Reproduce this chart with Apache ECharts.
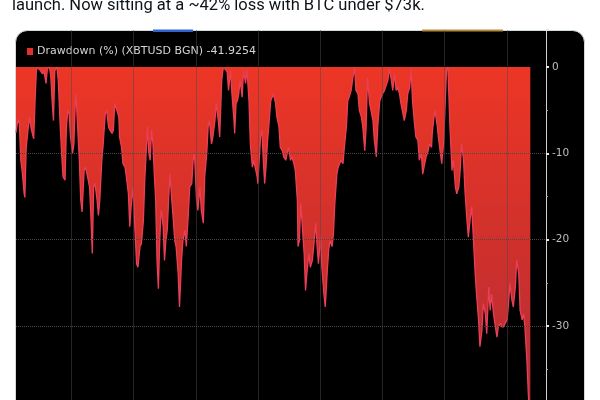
<!DOCTYPE html>
<html>
<head>
<meta charset="utf-8">
<script src="https://cdn.jsdelivr.net/npm/echarts@6/dist/echarts.min.js"></script>
<style>
html,body{margin:0;padding:0;background:#fff;overflow:hidden;width:600px;height:400px;}
#chart{width:600px;height:520px;}
</style>
</head>
<body>
<div id="chart"></div>
<script>
// ---- data ----
var tweetText = 'launch. Now sitting at a ~42% loss with BTC under $73k.';
var seriesLabel = 'Drawdown (%) (XBTUSD BGN)';
var launchDate = '2024-01-11';
var axisEndDate = '2026-02-27';
// days since launch
var days = [0,3,5,7,9,12,13,15,18,20,22,24,26,28,30,34,36,39,41,44,46,49,51,53,55,57,60,62,65,67,69,72,74,76,78,80,83,85,87,88,90,93,95,97,100,102,105,108,110,112,114,116,119,121,123,126,128,131,133,136,138,141,143,145,148,151,152,155,157,160,162,165,167,169,172,174,177,179,182,184,187,189,191,193,195,197,199,201,203,205,207,209,211,213,214,216,218,220,222,224,226,228,231,233,235,238,240,243,245,248,250,253,255,258,260,262,265,267,270,272,275,277,280,282,284,287,289,292,294,297,299,302,304,305,307,310,312,315,317,320,321,323,325,327,329,332,334,337,339,342,344,347,349,351,354,355,357,359,361,363,365,367,369,371,374,376,378,381,383,386,388,391,393,396,398,400,403,405,408,410,413,414,416,418,420,423,425,427,430,432,435,437,440,442,444,447,449,452,454,457,459,461,464,466,468,471,473,475,477,480,482,485,487,489,492,494,497,499,502,504,507,509,512,514,516,519,521,524,526,529,531,534,536,538,541,543,546,548,551,553,556,558,560,563,565,568,570,573,575,578,580,582,585,587,590,592,595,597,600,602,605,607,610,611,613,615,618,620,623,625,628,630,632,634,635,637,640,642,645,647,650,652,654,657,659,662,664,667,669,672,674,676,679,681,684,686,689,691,694,696,698,701,703,706,708,711,713,716,718,721,723,725,728,730,733,735,738,740,743,745,747,750,752,755];
// drawdown (%)
var drawdown = [-7.6,-6.0,-6.6,-10.8,-12.0,-14.7,-15.1,-9.3,-7.0,-5.8,-7.0,-7.7,-8.3,-3.9,-0.2,-0.2,-0.4,-0.8,-0.4,-1.9,-0.2,0,-1.0,-3.9,-6.2,-0.4,0,-1.5,-7.0,-10.0,-12.7,-13.1,-7.0,-5.0,-5.4,-8.1,-10.0,-8.9,-4.2,-3.1,-6.2,-10.8,-15.4,-16.8,-12.0,-11.6,-12.7,-13.9,-17.4,-21.6,-13.9,-13.5,-15.4,-17.2,-15.4,-10.8,-8.9,-5.4,-5.0,-7.0,-7.3,-7.7,-7.3,-4.2,-5.0,-5.8,-8.1,-9.3,-11.2,-11.6,-12.7,-14.7,-18.5,-16.2,-13.9,-17.8,-22.8,-23.2,-20.8,-20.5,-17.8,-13.1,-10.0,-6.9,-10.0,-10.8,-7.3,-8.9,-12.4,-15.4,-22.4,-25.7,-20.1,-16.6,-17.0,-18.5,-22.4,-20.1,-18.9,-15.4,-12.4,-14.7,-17.8,-20.1,-20.8,-23.9,-27.8,-22.4,-20.1,-18.9,-20.8,-17.0,-13.9,-13.5,-10.8,-10.0,-15.4,-16.6,-13.9,-16.6,-18.1,-12.7,-10.0,-6.9,-6.2,-8.9,-8.1,-6.2,-4.2,-6.2,-8.1,-1.5,-0.2,-0.4,-0.2,-0.6,-2.7,-0.4,-3.1,-6.2,-7.7,-4.2,-3.9,-3.1,-1.5,-3.5,-0.4,-1.9,-0.2,-3.9,-8.9,-11.6,-10.8,-11.6,-12.7,-13.5,-10.8,-8.1,-7.3,-10.8,-13.5,-11.6,-8.9,-6.9,-3.9,-3.5,-3.1,-4.2,-5.8,-6.9,-9.3,-9.7,-10.4,-10.8,-10.0,-9.3,-10.8,-10.4,-11.2,-12.0,-15.4,-20.8,-20.1,-15.8,-18.1,-21.6,-25.9,-23.9,-21.6,-23.2,-22.4,-20.8,-18.1,-20.8,-22.8,-19.7,-23.2,-26.3,-27.8,-23.5,-21.2,-20.1,-20.8,-19.3,-15.8,-12.4,-11.6,-11.6,-10.8,-11.2,-9.3,-6.9,-3.9,-3.5,-2.7,-1.5,0,-2.7,-3.1,-5.0,-5.8,-6.9,-9.7,-6.9,-1.2,-4.2,-5.0,-6.2,-8.5,-10.4,-6.9,-3.9,-3.5,-3.1,-2.7,-2.7,-1.5,-0.2,-1.5,-2.7,-0.8,-2.7,-2.3,-3.1,-4.2,-5.4,-6.2,-5.0,-3.1,-2.3,-0.2,-3.9,-6.6,-8.1,-8.5,-10.8,-10.0,-12.4,-11.2,-10.4,-9.7,-8.9,-9.3,-7.7,-6.2,-5.0,-6.6,-8.1,-10.0,-11.2,-8.5,-4.2,-0.4,0,-2.3,-6.9,-12.0,-10.8,-13.9,-14.7,-13.9,-12.0,-8.9,-10.8,-14.3,-17.8,-19.7,-17.4,-16.2,-20.8,-23.9,-26.3,-29.3,-32.4,-30.5,-27.4,-28.6,-30.9,-25.5,-28.2,-26.3,-28.6,-29.7,-31.3,-30.1,-29.7,-30.1,-30.1,-29.7,-29.3,-27.4,-25.1,-27.0,-27.8,-25.5,-22.4,-23.9,-28.2,-29.3,-28.6,-30.1,-34.0,-37.8,-41.9254];
var quarterDates = ['2024-04-01','2024-07-01','2024-10-01','2025-01-01','2025-04-01','2025-07-01','2025-10-01','2026-01-01'];
var yGridValues = [-10,-20,-30,-40];
var yMin = -50, yMax = 4.3, yInterval = 10;

// ---- build ----
function parseDate(s){var p=s.split('-');return new Date(+p[0],+p[1]-1,+p[2]).getTime();}
var DAY = 86400000;
var t0 = parseDate(launchDate);
var points = days.map(function(d,i){return [t0 + d*DAY, drawdown[i]];});
var lastVal = drawdown[drawdown.length-1];
var mainName = seriesLabel + ' ' + lastVal.toFixed(4);

var gridMarks = quarterDates.map(function(q){return {xAxis: parseDate(q)};})
  .concat(yGridValues.map(function(v){return {yAxis: v};}));

var chart = echarts.init(document.getElementById('chart'), null, {renderer:'canvas'});
chart.setOption({
  animation:false,
  backgroundColor:'#ffffff',
  graphic:[
    {type:'rect', z:-10, silent:true, shape:{x:15.5,y:30.5,width:569,height:520,r:12},
     style:{fill:'#000000', stroke:'#cfd9de', lineWidth:1}},
    {type:'rect', z:-5, silent:true, shape:{x:153,y:29.5,width:40,height:2.5}, style:{fill:'#2f64cc'}},
    {type:'rect', z:-5, silent:true, shape:{x:422,y:29.5,width:81,height:2}, style:{fill:'#b8893a'}},
    {type:'text', silent:true, x:12, y:5.5, style:{text:tweetText, font:'16.5px Roboto', fill:'#0f1419', verticalAlign:'middle', align:'left'}}
  ],
  legend:{
    left:22, top:41, icon:'rect', itemWidth:6, itemHeight:7, itemGap:5,
    data:[mainName], selectedMode:false,
    textStyle:{color:'#d4d4d4', fontSize:11, fontFamily:'DejaVu Sans', padding:[0,0,0,-1]}
  },
  grid:{left:16, right:54, top:30, height:468.5, containLabel:false},
  xAxis:{
    type:'time', min:t0, max:parseDate(axisEndDate),
    axisLine:{show:false}, axisTick:{show:false}, axisLabel:{show:false}, splitLine:{show:false}
  },
  yAxis:{
    type:'value', position:'right', min:yMin, max:yMax, interval:yInterval,
    axisLine:{show:true, lineStyle:{color:'#cfcfcf', width:1}},
    axisTick:{show:true, length:3, lineStyle:{color:'#e8e8e8', width:2}},
    minorTick:{show:true, splitNumber:2, length:2, lineStyle:{color:'#aaaaaa', width:1}},
    axisLabel:{show:true, margin:6, color:'#bdbdbd', fontSize:10.5, fontFamily:'DejaVu Sans',
      showMaxLabel:false,
      formatter:function(v){return (v<=0 && v%10===0)? String(v) : '';}},
    splitLine:{show:false}
  },
  series:[
    {
      name:'grid', type:'line', data:[], z:1, silent:true,
      markLine:{silent:true, symbol:'none', animation:false,
        label:{show:false},
        lineStyle:{type:'dotted', color:'#4a4a4a', width:1},
        data:gridMarks}
    },
    {
      name:mainName, type:'line', data:points, z:3,
      showSymbol:false, symbol:'none', sampling:null, smooth:false,
      color:'#e3302f',
      lineStyle:{color:'#ea3f56', width:1.3},
      areaStyle:{opacity:1, color:new echarts.graphic.LinearGradient(0,0,0,1,[
        {offset:0, color:'#ec3626'},
        {offset:0.5, color:'#cf302c'},
        {offset:1, color:'#b02d38'}
      ])}
    }
  ]
});
</script>
</body>
</html>
